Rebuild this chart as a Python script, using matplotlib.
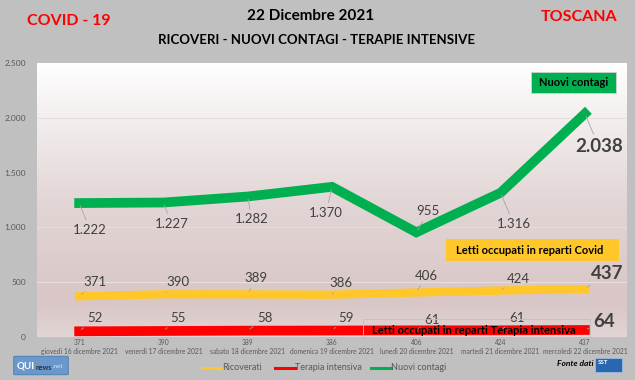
import matplotlib.pyplot as plt
import matplotlib.patches as patches
from matplotlib.colors import LinearSegmentedColormap
from matplotlib.lines import Line2D
import numpy as np

plt.rcParams['font.family'] = ['Lato', 'DejaVu Sans']

W, H = 635, 380

# dati
giorni = ['giovedì 16 dicembre 2021', 'venerdì 17 dicembre 2021', 'sabato 18 dicembre 2021',
          'domenica 19 dicembre 2021', 'lunedì 20 dicembre 2021', 'martedì 21 dicembre 2021',
          'mercoledì 22 dicembre 2021']
ricoverati = [371, 390, 389, 386, 406, 424, 437]
terapia = [52, 55, 58, 59, 61, 61, 64]
contagi = [1222, 1227, 1282, 1370, 955, 1316, 2038]
y_ticks = [0, 500, 1000, 1500, 2000, 2500]
y_labels = ['0', '500', '1.000', '1.500', '2.000', '2.500']

# spostamenti etichette (pixel)
off_contagi = [(11, -27), (8, -21), (4, -23), (-6, -26), (12, 21), (13, -31), (14, -33)]
off_ricov = [(16, 14), (15, 12), (8, 16), (9, 12), (10, 17), (18, 12), (22, 16)]
off_terapia = [(16, 13), (15, 13), (17, 13), (14, 13), (16, 10), (16, 12), (19, 8)]

GREEN = '#00b050'
YELLOW = '#ffc729'
RED = '#ff0000'
GREY_TXT = '#595959'
LBL = '#404040'


def fx(x):
    return x / W


def fy(y):
    return 1 - y / H


def fmt(v):
    return f'{v:,}'.replace(',', '.')


fig = plt.figure(figsize=(6.35, 3.80), dpi=100)
fig.patch.set_facecolor('#c0c0c0')

ax = fig.add_axes([fx(37), fy(337), fx(590), 274 / H])
ax.set_xlim(-0.5, 6.5)
ax.set_ylim(0, 2500)

# sfondo sfumato
cmap = LinearSegmentedColormap.from_list('bg', [(0, '#e2d5d5'), (0.12, '#d9c6c6'),
                                                (0.5, '#e3d6d6'), (1, '#ffffff')])
grad = np.linspace(0, 1, 256).reshape(-1, 1)
ax.imshow(grad, cmap=cmap, aspect='auto', extent=(-0.5, 6.5, 0, 2500),
          origin='lower', zorder=0)

for t in y_ticks[1:-1]:
    ax.axhline(t, color='#e6dede', lw=0.8, zorder=1)

for s in ax.spines.values():
    s.set_visible(False)

ax.set_yticks(y_ticks)
ax.set_yticklabels(y_labels, fontsize=6, color=GREY_TXT)
ax.set_xticks(range(len(giorni)))
ax.set_xticklabels([f'{r}\n{g}' for r, g in zip(ricoverati, giorni)],
                   fontsize=4.8, color=GREY_TXT, linespacing=1.25)
ax.tick_params(axis='x', length=0, pad=1.5)
ax.tick_params(axis='y', length=0, pad=8)

x = np.arange(len(giorni))
ax.plot(x, contagi, color=GREEN, lw=7, solid_capstyle='projecting',
        solid_joinstyle='miter', zorder=3)
ax.plot(x, ricoverati, color=YELLOW, lw=6, solid_capstyle='projecting', zorder=3)
ax.plot(x, terapia, color=RED, lw=7, solid_capstyle='projecting', zorder=3, clip_on=False)


def etichette(vals, offs):
    for i, (v, (dx, dy)) in enumerate(zip(vals, offs)):
        last = i == len(vals) - 1
        ax.annotate(fmt(v), (i, v), xytext=(dx, dy), textcoords='offset pixels',
                    ha='center', va='center',
                    fontsize=13.5 if last else 9.5,
                    fontweight='bold' if last else 'normal', color=LBL,
                    arrowprops=dict(arrowstyle='-', color='#a6a6a6', lw=0.6,
                                    shrinkA=1, shrinkB=2),
                    zorder=5)


etichette(contagi, off_contagi)
etichette(ricoverati, off_ricov)
etichette(terapia, off_terapia)


def box(x0, y0, x1, y1, fc, ec, txt, cx, cy, size):
    fig.patches.append(patches.Rectangle((fx(x0), fy(y1)), fx(x1 - x0), (y1 - y0) / H,
                                         transform=fig.transFigure, facecolor=fc,
                                         edgecolor=ec, lw=0.6, zorder=6))
    fig.text(fx(cx), fy(cy), txt, ha='center', va='center', fontsize=size,
             fontweight='bold', color='black', zorder=7)


box(531, 72, 616, 93, GREEN, '#d0d0d0', 'Nuovi contagi', 573.5, 82.5, 8)
box(446, 239, 619, 261, YELLOW, 'none', 'Letti occupati in reparti Covid', 530, 250, 8)
box(363, 319, 590, 337, 'none', '#bfbfbf', 'Letti occupati in reparti Terapia intensiva',
    474, 330.5, 8)

# titoli
fig.text(fx(69), fy(21), 'COVID - 19', color=RED, fontsize=11.5, fontweight='bold',
         ha='center', va='center')
fig.text(fx(579), fy(17), 'TOSCANA', color=RED, fontsize=11.5, fontweight='bold',
         ha='center', va='center')
fig.text(fx(311), fy(16), '22 Dicembre 2021', color='black', fontsize=11,
         fontweight='bold', ha='center', va='center')
fig.text(fx(317), fy(40), 'RICOVERI - NUOVI CONTAGI - TERAPIE INTENSIVE', color='black',
         fontsize=9.5, fontweight='bold', ha='center', va='center')

# legenda
for x0, col, lab in [(202, YELLOW, 'Ricoverati'), (275, RED, 'Terapia intensiva'),
                     (371, GREEN, 'Nuovi contagi')]:
    fig.lines.append(Line2D([fx(x0), fx(x0 + 20)], [fy(368), fy(368)], color=col, lw=2.2,
                            transform=fig.transFigure))
    fig.text(fx(x0 + 20), fy(368), lab, fontsize=6.5, color=GREY_TXT, va='center')

# loghi
fig.patches.append(patches.FancyBboxPatch((fx(15), fy(374)), fx(52), 17 / H,
                                          boxstyle='round,pad=0.002',
                                          transform=fig.transFigure,
                                          facecolor='#6a98cc', edgecolor='#4a78b0', lw=0.6))
fig.text(fx(17), fy(366), 'QUI', color='white', fontsize=7, fontweight='bold', va='center')
fig.text(fx(36), fy(367), 'news', color='#2e2e2e', fontsize=5, fontweight='bold',
         va='center')
fig.text(fx(53), fy(367), '.net', color='#d6e4f5', fontsize=4.5, va='center')

fig.text(fx(575), fy(364), 'Fonte dati', fontsize=6, fontstyle='italic',
         fontweight='bold', color='black', ha='center', va='center')
fig.patches.append(patches.Rectangle((fx(595), fy(372)), fx(27), 14 / H,
                                     transform=fig.transFigure, facecolor='#2b66b0',
                                     edgecolor='#9bbbe0', lw=0.6))
fig.text(fx(603), fy(362), 'SST', color='white', fontsize=4.5, fontweight='bold',
         ha='center', va='center')

fig.savefig('out.png', dpi=100, facecolor=fig.get_facecolor())
